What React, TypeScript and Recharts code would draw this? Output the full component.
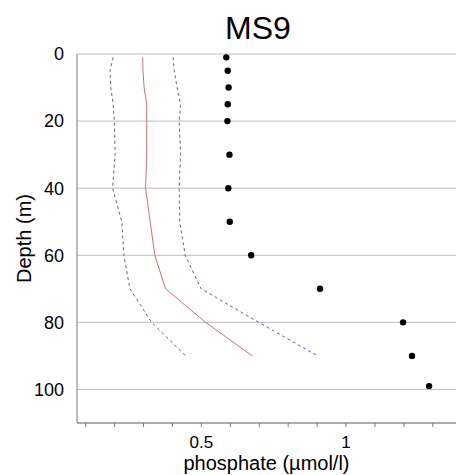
import { ScatterChart, Scatter, XAxis, YAxis, CartesianGrid } from 'recharts';

const depths = [1, 5, 10, 15, 20, 30, 40, 50, 60, 70, 80, 90, 99];
const observed = [0.586, 0.591, 0.594, 0.591, 0.59, 0.597, 0.593, 0.598, 0.672, 0.91, 1.197, 1.228, 1.287];

const modelDepths = [1, 5, 10, 15, 20, 30, 40, 50, 60, 70, 80, 90];
const modelMean = [0.297, 0.298, 0.302, 0.311, 0.311, 0.311, 0.307, 0.323, 0.339, 0.376, 0.515, 0.676];
const modelLow = [0.195, 0.184, 0.187, 0.195, 0.199, 0.202, 0.193, 0.225, 0.232, 0.253, 0.328, 0.446];
const modelHigh = [0.402, 0.406, 0.416, 0.428, 0.423, 0.428, 0.423, 0.425, 0.444, 0.499, 0.698, 0.902];

const xTicks = [0.1, 0.2, 0.3, 0.4, 0.5, 0.6, 0.7, 0.8, 0.9, 1, 1.1, 1.2, 1.3];
const xLabelled = [0.5, 1];
const yTicks = [0, 20, 40, 60, 80, 100];

const FONT = '"Liberation Sans", Arial, sans-serif';

const toPoints = (vals: number[], ds: number[]) => vals.map((x, i) => ({ x, y: ds[i] }));

const obsData = toPoints(observed, depths);
const meanData = toPoints(modelMean, modelDepths);
const lowData = toPoints(modelLow, modelDepths);
const highData = toPoints(modelHigh, modelDepths);

const noDot = () => <g />;
const dot = (p: any) => <circle cx={p.cx} cy={p.cy} r={3.2} fill="#000" />;

export default function App() {
  return (
    <div style={{ position: 'absolute', left: 0, top: 0, width: 456, height: 475, background: '#fff', fontFamily: FONT }}>
      <div style={{ position: 'absolute', left: 0, width: 516, top: 12, fontSize: 32, lineHeight: '32px', textAlign: 'center', color: '#000' }}>
        MS9
      </div>
      <ScatterChart width={456} height={475} margin={{ top: 54, right: 0, bottom: 0, left: 0 }}>
        <CartesianGrid vertical={false} stroke="#bdbdbd" />
        <XAxis
          type="number"
          dataKey="x"
          domain={[0.07, 1.38]}
          allowDataOverflow
          ticks={xTicks}
          interval={0}
          height={52}
          tickSize={4}
          tickMargin={9}
          stroke="#7a7a7a"
          tick={{ fill: '#000', fontSize: 17, fontFamily: FONT }}
          tickFormatter={(v: number) => (xLabelled.includes(v) ? String(v) : '')}
          label={{ value: 'phosphate (µmol/l)', position: 'center', dy: 14, fill: '#000', fontSize: 20, fontFamily: FONT }}
        />
        <YAxis
          type="number"
          dataKey="y"
          reversed
          domain={[0, 110]}
          allowDataOverflow
          ticks={yTicks}
          interval={0}
          width={77}
          tickLine={false}
          tickSize={0}
          tickMargin={13}
          stroke="#7a7a7a"
          tick={{ fill: '#000', fontSize: 18, fontFamily: FONT }}
          label={{ value: 'Depth (m)', angle: -90, position: 'center', dx: -15, fill: '#000', fontSize: 20, fontFamily: FONT }}
        />
        <Scatter data={lowData} line={{ stroke: '#5563a0', strokeWidth: 1, strokeDasharray: '3 3' }} shape={noDot} isAnimationActive={false} />
        <Scatter data={highData} line={{ stroke: '#5563a0', strokeWidth: 1, strokeDasharray: '3 3' }} shape={noDot} isAnimationActive={false} />
        <Scatter data={meanData} line={{ stroke: '#c87272', strokeWidth: 1 }} shape={noDot} isAnimationActive={false} />
        <Scatter data={obsData} shape={dot} isAnimationActive={false} />
      </ScatterChart>
    </div>
  );
}
